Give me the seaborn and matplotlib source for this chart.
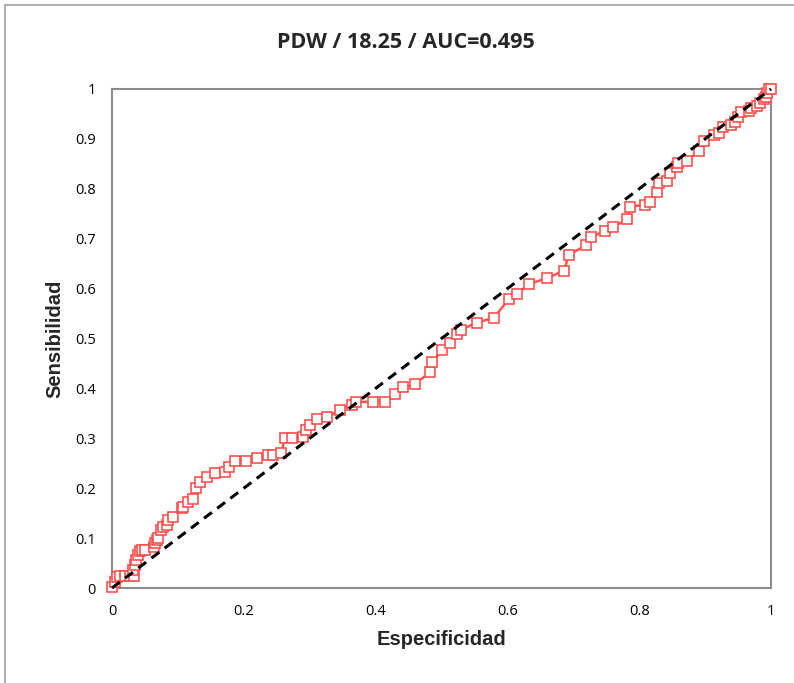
import numpy as np
import pandas as pd
import matplotlib
matplotlib.use("Agg")
import matplotlib.pyplot as plt
import seaborn as sns
from matplotlib.patches import Rectangle

title = "PDW / 18.25 / AUC=0.495"
xlabel = "Especificidad"
ylabel = "Sensibilidad"

spec = [0.0, 0.005, 0.007, 0.012, 0.02, 0.027, 0.034, 0.032, 0.035, 0.037, 0.04, 0.042,
        0.046, 0.05, 0.063, 0.065, 0.068, 0.07, 0.075, 0.078, 0.083, 0.085, 0.093, 0.106,
        0.108, 0.116, 0.123, 0.128, 0.134, 0.144, 0.156, 0.171, 0.177, 0.187, 0.204, 0.22,
        0.237, 0.245, 0.257, 0.262, 0.273, 0.29, 0.295, 0.3, 0.311, 0.326, 0.346, 0.364,
        0.371, 0.396, 0.414, 0.429, 0.442, 0.46, 0.483, 0.486, 0.501, 0.513, 0.524, 0.529,
        0.554, 0.58, 0.602, 0.614, 0.633, 0.66, 0.686, 0.693, 0.719, 0.727, 0.748, 0.761,
        0.782, 0.786, 0.809, 0.816, 0.827, 0.83, 0.842, 0.846, 0.857, 0.859, 0.872, 0.891,
        0.898, 0.913, 0.921, 0.927, 0.94, 0.946, 0.95, 0.954, 0.967, 0.97, 0.978, 0.983,
        0.99, 0.993, 0.994, 0.997, 1.0]
sens = [0.003, 0.013, 0.023, 0.024, 0.024, 0.024, 0.024, 0.036, 0.046, 0.056, 0.066, 0.075,
        0.076, 0.076, 0.083, 0.09, 0.096, 0.1, 0.116, 0.123, 0.126, 0.136, 0.142, 0.16,
        0.163, 0.173, 0.178, 0.2, 0.213, 0.223, 0.23, 0.233, 0.243, 0.255, 0.255, 0.26,
        0.267, 0.267, 0.27, 0.3, 0.3, 0.303, 0.317, 0.327, 0.338, 0.342, 0.357, 0.367,
        0.373, 0.373, 0.373, 0.388, 0.402, 0.409, 0.433, 0.452, 0.477, 0.49, 0.51, 0.517,
        0.532, 0.542, 0.579, 0.589, 0.609, 0.621, 0.636, 0.667, 0.687, 0.703, 0.716, 0.724,
        0.739, 0.764, 0.768, 0.774, 0.794, 0.811, 0.816, 0.831, 0.844, 0.852, 0.856, 0.876,
        0.896, 0.908, 0.912, 0.924, 0.928, 0.934, 0.944, 0.954, 0.956, 0.961, 0.966, 0.971,
        0.979, 0.984, 0.991, 0.999, 1.0]
diag_x = [0.0, 1.0]
diag_y = [0.0, 1.0]
xticks = [0, 0.2, 0.4, 0.6, 0.8, 1]
xticklabels = ["0", "0.2", "0.4", "0.6", "0.8", "1"]
yticks = [0, 0.1, 0.2, 0.3, 0.4, 0.5, 0.6, 0.7, 0.8, 0.9, 1]
yticklabels = ["0", "0.1", "0.2", "0.3", "0.4", "0.5", "0.6", "0.7", "0.8", "0.9", "1"]

sns.set_theme(style="white")
plt.rcParams['font.family'] = ['Open Sans', 'DejaVu Sans']

fig = plt.figure(figsize=(7.94, 6.83), dpi=100)
ax = fig.add_axes([112/794, 1 - 588/683, (771-112)/794, (588-89)/683])

df = pd.DataFrame({"x": spec, "y": sens})
sns.lineplot(data=df, x="x", y="y", ax=ax, color="#FF5050", linewidth=1.8,
             marker="s", markersize=7.5, markerfacecolor="white",
             markeredgecolor="#FF5050", markeredgewidth=1.2, sort=False, zorder=3,
             clip_on=False)
sns.lineplot(x=diag_x, y=diag_y, ax=ax, color="black", linewidth=2.2,
             linestyle=(0, (3.2, 2.2)), zorder=4, clip_on=False)

ax.set_xlim(0, 1)
ax.set_ylim(0, 1)
ax.set_xticks(xticks)
ax.set_xticklabels(xticklabels)
ax.set_yticks(yticks)
ax.set_yticklabels(yticklabels)
for s in ax.spines.values():
    s.set_color("#8c8c8c")
    s.set_linewidth(1.5)
    s.set_zorder(1)
ax.tick_params(axis="both", which="both", direction="inout", length=7, width=1.2,
               color="#8c8c8c", labelsize=10.5, labelcolor="black")
ax.tick_params(axis="x", pad=8)
ax.tick_params(axis="y", pad=8)
ax.set_xlabel(xlabel, fontsize=14.5, fontweight="bold", family=["Liberation Sans"], labelpad=8)
ax.set_ylabel(ylabel, fontsize=14.5, fontweight="bold", family=["Liberation Sans"], labelpad=8)
fig.text(406/794, 1 - 43/683, title, ha="center", va="center", fontsize=15.5,
         fontweight="bold", family=["Open Sans"])

fig.patches.append(Rectangle((5/794, -0.1), 1.2, 1 - 5/683 + 0.1, transform=fig.transFigure,
                             fill=False, edgecolor="#a0a0a0", linewidth=1.2))

fig.savefig("out.png", dpi=100)
